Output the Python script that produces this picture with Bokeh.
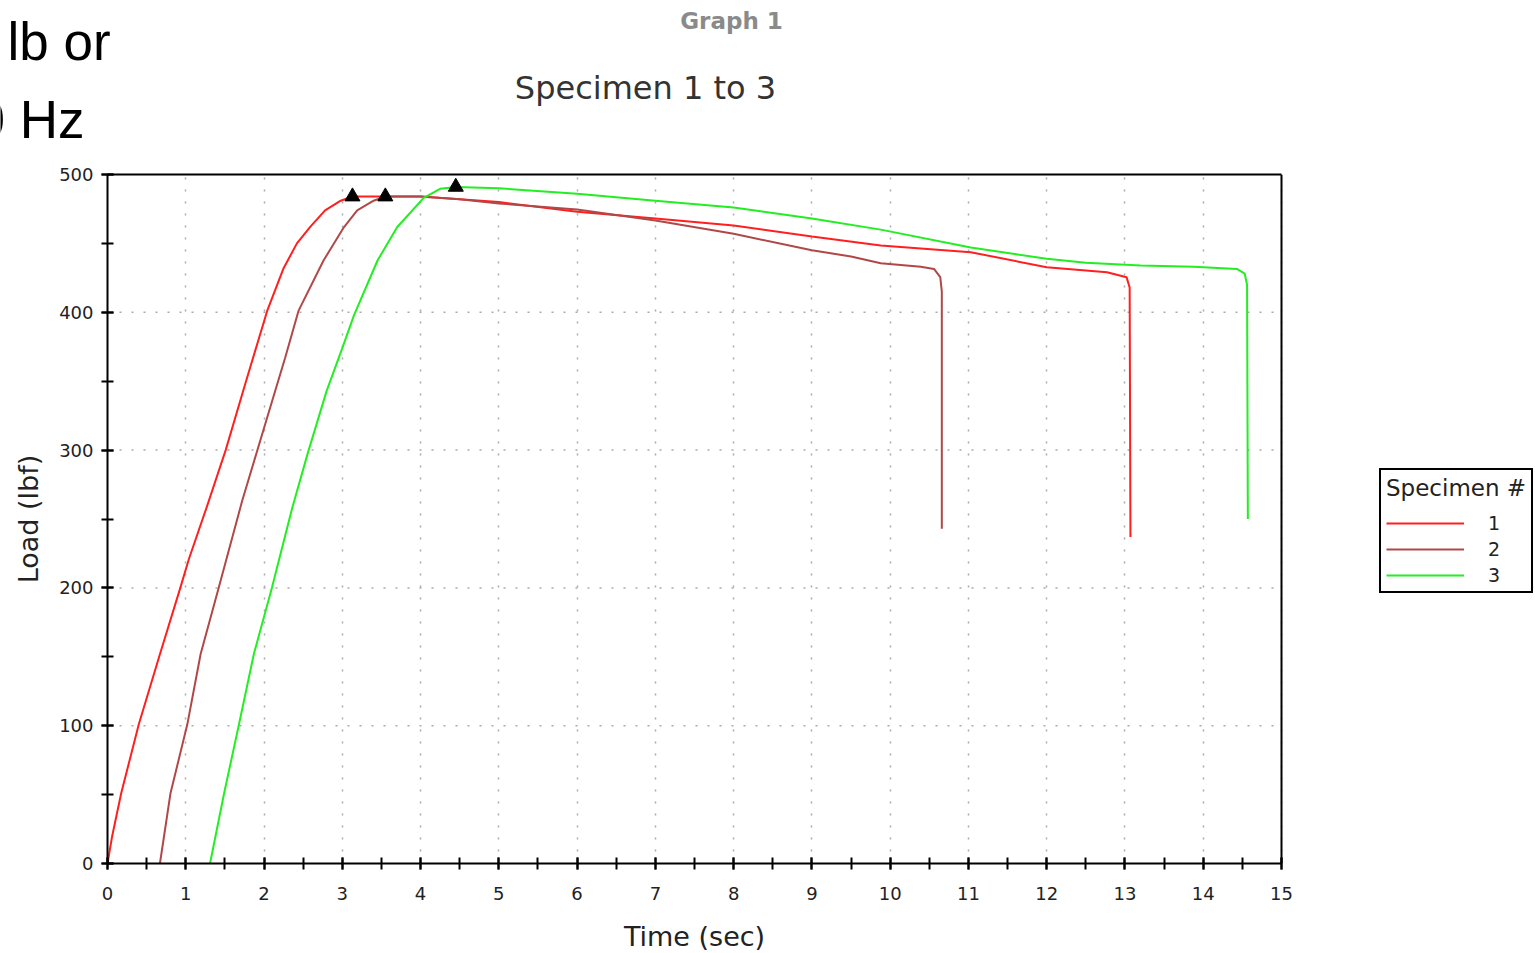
from bokeh.plotting import figure
from bokeh.models import (Legend, LegendItem, SingleIntervalTicker, FixedTicker, Range1d,
                          LinearAxis, Span)
from bokeh.core.properties import value
from bokeh.embed import file_html
from bokeh.resources import INLINE

# ---- data ----
spec1_time = [0, 0.06, 0.175, 0.40, 0.66, 0.93, 1.04, 1.27, 1.51, 1.77, 2.04, 2.25, 2.42,
              2.59, 2.78, 2.98, 3.13, 3.6, 4.0, 4.5, 5.0, 6.0, 7.0, 8.0, 9.0, 9.88, 11.03, 12.0,
              12.77, 13.02, 13.06, 13.07]
spec1_load = [0, 20, 51, 101, 150, 200, 221, 259, 300, 350, 401, 432, 450,
              462, 474, 481, 484, 484, 484, 482, 480, 473, 468, 463, 455, 448.5, 443.6, 432.7,
              429, 425.5, 418, 237]

spec2_time = [0.67, 0.805, 1.02, 1.19, 1.42, 1.72, 2.0, 2.27, 2.44, 2.76, 3.02, 3.19, 3.40, 3.55,
              4.0, 4.5, 5.0, 6.0, 7.0, 8.0, 9.0, 9.5, 9.88, 10.39, 10.56, 10.64, 10.66, 10.66]
spec2_load = [0, 51, 101, 152, 200, 263, 316, 367, 401, 437.6, 461.7, 474, 481, 484,
              484, 482, 479, 474.6, 466.6, 457, 445, 440.5, 435.6, 433, 431.5, 425.5, 415, 243]

spec3_time = [1.31, 1.49, 1.68, 1.87, 2.10, 2.36, 2.56, 2.80, 3.0, 3.15, 3.45, 3.70, 4.04, 4.25, 4.45,
              5.0, 6.0, 7.0, 8.0, 9.0, 9.88, 11.03, 12.0, 12.5, 13.2, 13.88, 14.43, 14.53, 14.56, 14.57]
spec3_load = [0, 51, 101, 152, 200, 258, 298, 343, 374, 398, 437.6, 461.7, 483, 489.6, 491,
              490, 486, 481, 476, 468, 460, 447, 438.8, 436, 434, 433, 431.5, 428, 420, 250]

peak_time = [3.13, 3.55, 4.45]
peak_load = [484, 484, 491]

specimen_labels = ["1", "2", "3"]
specimen_colors = ["#ff1f1f", "#b04848", "#22ee22"]

x_start, x_end = 0, 15
y_start, y_end = 0, 500
load_grid = [100, 200, 300, 400]

FONT = "DejaVu Sans"
W = 1535
H = 953
HEAD_H = 150
FOOT_H = 38

# pixel layout of the plot box
BOX_LEFT, BOX_RIGHT = 107, 1281
BOX_TOP, BOX_BOTTOM = 174, 863
CANVAS_RIGHT_PAD = 2
frame_right = W - CANVAS_RIGHT_PAD
# the frame is widened to hold the legend; the time axis itself stops at x_end
x_view_end = x_end * (frame_right - BOX_LEFT) / (BOX_RIGHT - BOX_LEFT)

# ---- header strip (titles and cropped slide text) ----
head = figure(width=W, height=HEAD_H, output_backend="svg", toolbar_location=None,
              x_range=Range1d(0, W), y_range=Range1d(HEAD_H, 0),
              x_axis_type=None, y_axis_type=None,
              min_border_left=0, min_border_right=0, min_border_top=0, min_border_bottom=0,
              background_fill_color="white", border_fill_color="white")
head.outline_line_color = None
head.grid.visible = False

head.text(x=[731], y=[20], text=["Graph 1"], text_align="center", text_baseline="middle",
          text_font=value(FONT), text_font_size="23px", text_font_style="bold",
          text_color="#8a8a8a")
head.text(x=[645], y=[87], text=["Specimen 1 to 3"], text_align="center", text_baseline="middle",
          text_font=value(FONT), text_font_size="32px", text_color="#333333")
head.text(x=[7], y=[41], text=["lb or"], text_align="left", text_baseline="middle",
          text_font=value("Liberation Sans"), text_font_size="53px", text_color="black")
head.text(x=[-25], y=[119], text=["0 Hz"], text_align="left", text_baseline="middle",
          text_font=value("Liberation Sans"), text_font_size="53px", text_color="black")

# ---- main chart ----
main_h = H - HEAD_H - FOOT_H
p = figure(width=W, height=main_h, output_backend="svg", toolbar_location=None,
           x_range=Range1d(x_start, x_view_end), y_range=Range1d(y_start, y_end),
           min_border_left=BOX_LEFT, min_border_right=CANVAS_RIGHT_PAD,
           min_border_top=BOX_TOP - HEAD_H, min_border_bottom=(H - FOOT_H) - BOX_BOTTOM,
           background_fill_color="white", border_fill_color="white")
p.outline_line_color = None

p.xaxis.ticker = SingleIntervalTicker(interval=1, num_minor_ticks=2)
p.yaxis.ticker = SingleIntervalTicker(interval=100, num_minor_ticks=2)
p.xaxis.bounds = (x_start, x_end)
for ax in (p.xaxis[0], p.yaxis[0]):
    ax.axis_line_color = "black"
    ax.axis_line_width = 2
    ax.major_tick_line_color = "black"
    ax.minor_tick_line_color = "black"
    ax.major_tick_line_width = 2
    ax.minor_tick_line_width = 2
    ax.major_tick_in = 6
    ax.major_tick_out = 6
    ax.minor_tick_in = 6
    ax.minor_tick_out = 6
    ax.major_label_text_font = FONT
    ax.major_label_text_font_size = "18px"
    ax.major_label_text_color = "#222222"
    ax.axis_label_text_font = FONT
    ax.axis_label_text_font_size = "27px"
    ax.axis_label_text_font_style = "normal"
    ax.axis_label_text_color = "#222222"

p.yaxis.axis_label = "Load (lbf)"
p.xaxis.major_label_standoff = 17
p.yaxis.major_label_standoff = 8
p.yaxis.axis_label_standoff = 12

# top edge of the plot box
top_edge = LinearAxis(bounds=(x_start, x_end), ticker=FixedTicker(ticks=[]),
                      axis_line_color="black", axis_line_width=2,
                      major_tick_in=0, major_tick_out=0, minor_tick_in=0, minor_tick_out=0)
p.add_layout(top_edge, "above")
# right edge of the plot box
p.add_layout(Span(location=x_end, dimension="height", line_color="black", line_width=2))

# dotted grid
p.xgrid.bounds = (x_start, x_end)
p.ygrid.visible = False
p.xgrid.grid_line_color = "#aaaaaa"
p.xgrid.grid_line_dash = "2 10"
p.xgrid.grid_line_width = 1.5
p.segment(x0=[x_start] * len(load_grid), y0=load_grid, x1=[x_end] * len(load_grid), y1=load_grid,
          line_color="#aaaaaa", line_dash="2 10", line_width=1.5)

renderers = []
for t, l, c in ((spec1_time, spec1_load, specimen_colors[0]),
                (spec2_time, spec2_load, specimen_colors[1]),
                (spec3_time, spec3_load, specimen_colors[2])):
    renderers.append(p.line(t, l, line_color=c, line_width=2))

p.scatter(peak_time, peak_load, marker="triangle", size=15, fill_color="black", line_color="black")

legend = Legend(items=[LegendItem(label=lab, renderers=[r]) for lab, r in zip(specimen_labels, renderers)],
                title="Specimen #", location=(1379 - BOX_LEFT, BOX_BOTTOM - 593))
legend.border_line_color = "black"
legend.border_line_width = 2
legend.border_line_alpha = 1
legend.background_fill_color = "white"
legend.background_fill_alpha = 1
legend.padding = 5
legend.margin = 0
legend.spacing = 4
legend.glyph_width = 78
legend.glyph_height = 22
legend.label_height = 22
legend.label_standoff = 24
legend.label_text_font = FONT
legend.label_text_font_size = "19px"
legend.label_text_color = "#222222"
legend.title_text_font = FONT
legend.title_text_font_size = "23px"
legend.title_text_font_style = "normal"
legend.title_text_color = "#222222"
legend.title_standoff = 11
p.add_layout(legend)

# ---- footer strip: the time-axis title, centred under the plot box ----
foot = figure(width=W, height=FOOT_H, output_backend="svg", toolbar_location=None,
              x_range=Range1d(0, W), y_range=Range1d(FOOT_H, 0),
              x_axis_type=None, y_axis_type=None,
              min_border_left=0, min_border_right=0, min_border_top=0, min_border_bottom=0,
              background_fill_color="white", border_fill_color="white")
foot.outline_line_color = None
foot.grid.visible = False
foot.text(x=[(BOX_LEFT + BOX_RIGHT) / 2], y=[21], text=["Time (sec)"], text_align="center",
          text_baseline="middle", text_font=value(FONT), text_font_size="27px",
          text_color="#222222")

open("out.html", "w").write(file_html([head, p, foot], INLINE))
